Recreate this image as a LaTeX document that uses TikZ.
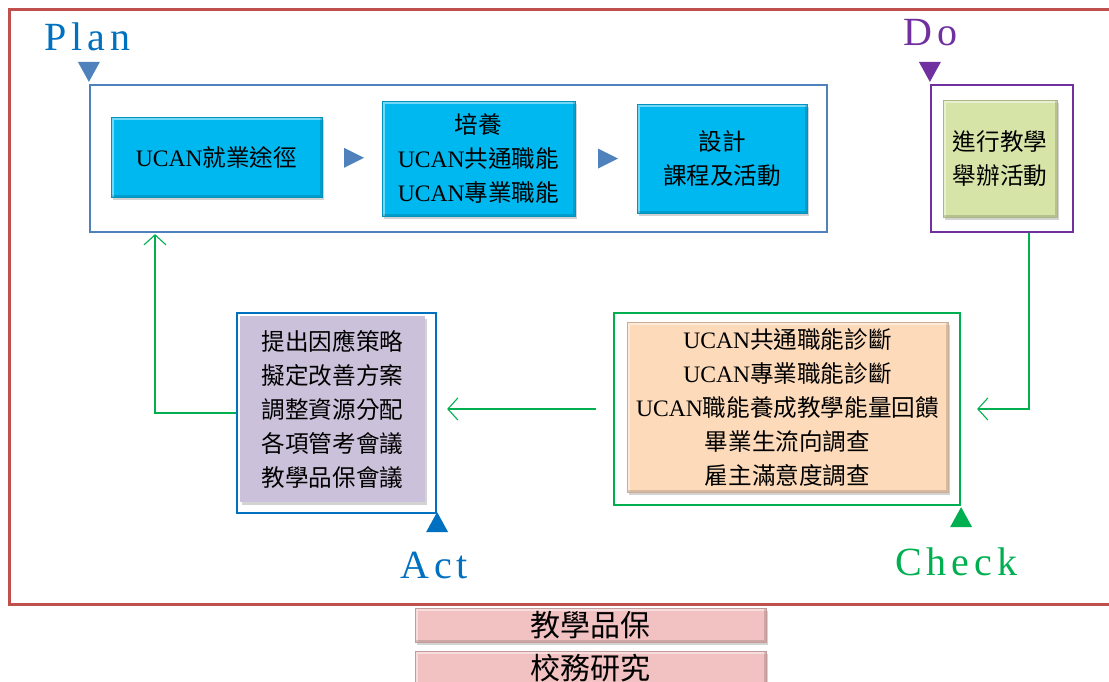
\documentclass[tikz,border=0pt]{standalone}
\usepackage{fontspec}
\setmainfont{Liberation Serif}
\newfontfamily\cjk{Noto Sans CJK TC}
\usetikzlibrary{arrows.meta,shadows,calc}
\definecolor{redframe}{RGB}{192,80,77}
\definecolor{planblue}{RGB}{79,129,189}
\definecolor{actblue}{RGB}{0,112,192}
\definecolor{doviolet}{RGB}{112,48,160}
\definecolor{chkgreen}{RGB}{0,176,80}
\definecolor{cyanfill}{RGB}{0,184,240}
\definecolor{olivefill}{RGB}{215,228,168}
\definecolor{peachfill}{RGB}{252,218,186}
\definecolor{lavfill}{RGB}{204,193,218}
\definecolor{pinkfill}{RGB}{242,194,194}
\newcommand{\zh}[1]{{\cjk #1}}
\tikzset{
  txt/.style={font=\fontsize{23.6}{34}\selectfont, align=center, text=black, inner sep=0pt},
  bevel/.style={txt, fill=#1, draw=#1!80!black, line width=0.6pt,
     drop shadow={shadow xshift=2pt, shadow yshift=-3pt, opacity=0.35},
     path picture={
       \draw[white, opacity=0.45, line width=5pt]
         (path picture bounding box.south west) -- (path picture bounding box.north west) -- (path picture bounding box.north east);
       \draw[black, opacity=0.15, line width=5pt]
         (path picture bounding box.north east) -- (path picture bounding box.south east) -- (path picture bounding box.south west);
     }},
  frame/.style={draw=#1, line width=2.2pt, inner sep=0pt},
  phase/.style={font=\fontsize{40}{40}\selectfont, text=#1, inner sep=0pt, anchor=base west},
  conn/.style={draw=chkgreen, line width=1.1pt},
  tip/.style={-{Straight Barb[length=10pt,width=22pt,line width=1.1pt]}},
}
\begin{document}
\begin{tikzpicture}[x=1pt,y=-1pt]
\useasboundingbox (0,0) rectangle (1109,681);
% outer red frame
\draw[redframe, line width=3pt] (1125,9) -- (9,9) -- (9,604) -- (1125,604);

% Plan
\node[phase=actblue] (planlbl) at (44,50) {P\kern5pt l\kern5pt a\kern5pt n};
\node[frame=planblue, minimum width=737pt, minimum height=147pt] (planf) at (458.5,158.5) {};
\fill[planblue] ($(planf.north west)+(-11,-22)$) -- ($(planf.north west)+(11,-22)$) -- ($(planf.north west)+(0,-2)$) -- cycle;
\node[bevel=cyanfill, minimum width=211pt, minimum height=80pt] (b1) at (216.5,157) {UCAN\zh{就業途徑}};
\node[bevel=cyanfill, minimum width=193pt, minimum height=115pt] (b2) at (478.5,158.5) {\zh{培養}\\UCAN\zh{共通職能}\\UCAN\zh{專業職能}};
\node[bevel=cyanfill, minimum width=170pt, minimum height=109pt] (b3) at (722,158.5) {\zh{設計}\\\zh{課程及活動}};
\coordinate (t1) at ($(b1.east)!0.5!(b2.west)$);
\coordinate (t2) at ($(b2.east)!0.5!(b3.west)$);
\fill[planblue] ($(t1)+(-8,-10)$) -- ($(t1)+(-8,10)$) -- ($(t1)+(12,0)$) -- cycle;
\fill[planblue] ($(t2)+(-8,-10)$) -- ($(t2)+(-8,10)$) -- ($(t2)+(12,0)$) -- cycle;

% Do
\node[phase=doviolet] (dolbl) at (903,45) {D\kern5pt o};
\node[frame=doviolet, minimum width=142pt, minimum height=147pt] (dof) at (1002,158.5) {};
\fill[doviolet] ($(dof.north west)+(-11,-22)$) -- ($(dof.north west)+(11,-22)$) -- ($(dof.north west)+(0,-2)$) -- cycle;
\node[bevel=olivefill, minimum width=114pt, minimum height=117pt] (dobox) at (1000,158.5) {\zh{進行教學}\\\zh{舉辦活動}};

% Check
\node[frame=chkgreen, minimum width=346pt, minimum height=192pt] (chkf) at (787,409) {};
\node[bevel=peachfill, minimum width=321pt, minimum height=170pt] (chkbox) at (787.5,407) {UCAN\zh{共通職能診斷}\\UCAN\zh{專業職能診斷}\\UCAN\zh{職能養成教學能量回饋}\\\zh{畢業生流向調查}\\\zh{雇主滿意度調查}};
\fill[chkgreen] ($(chkf.south east)+(-11,21)$) -- ($(chkf.south east)+(11,21)$) -- ($(chkf.south east)+(0,1)$) -- cycle;
\node[phase=chkgreen] (chklbl) at (895,575) {C\kern5pt h\kern5pt e\kern5pt c\kern5pt k};

% Act
\node[frame=actblue, minimum width=199pt, minimum height=200pt] (actf) at (336.5,413) {};
\node[txt, fill=lavfill, minimum width=185pt, minimum height=186pt,
  drop shadow={shadow xshift=2pt, shadow yshift=-3pt, opacity=0.35}] (actbox) at (332.5,409) {\zh{提出因應策略}\\\zh{擬定改善方案}\\\zh{調整資源分配}\\\zh{各項管考會議}\\\zh{教學品保會議}};
\fill[actblue] ($(actf.south east)+(-11,18)$) -- ($(actf.south east)+(11,18)$) -- ($(actf.south east)+(0,-2)$) -- cycle;
\node[phase=actblue] (actlbl) at (400,578) {A\kern5pt c\kern5pt t};

% connectors
\draw[conn, tip, shorten >=16pt] (dof.south -| 1029,0) |- (chkf.east);
\draw[conn, tip, shorten <=17pt, shorten >=10pt] (chkf.west) -- (chkf.west -| actf.east);
\draw[conn, tip, shorten >=1pt] (actf.west) -| (planf.south -| 155,0);

% bottom boxes
\node[bevel=pinkfill, font=\fontsize{30}{30}\selectfont, minimum width=351pt, minimum height=34pt] (qa) at (590.5,625) {\zh{教學品保}};
\node[bevel=pinkfill, font=\fontsize{30}{30}\selectfont, minimum width=351pt, minimum height=34pt] (ir) at (590.5,668) {\zh{校務研究}};
\end{tikzpicture}
\end{document}
